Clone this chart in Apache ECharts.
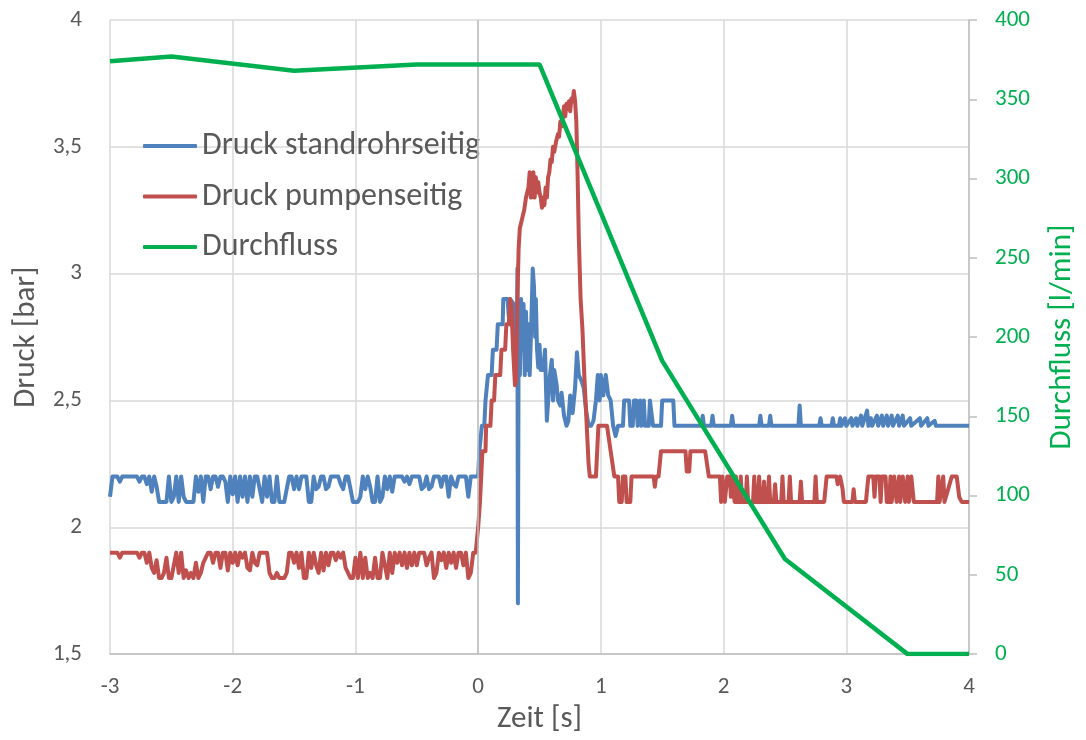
<!DOCTYPE html>
<html lang="de">
<head>
    <meta charset="UTF-8">
    <title>Druck und Durchfluss</title>
    <script src="https://cdn.jsdelivr.net/npm/echarts@6/dist/echarts.min.js"></script>
    <style>
        html, body, #chart {
            width: 100%;
            height: 100%;
            margin: 0;
            padding: 0;
            background: #fff;
        }
        body { overflow: hidden; }
    </style>
</head>
<body>
    <div id="chart"></div>
    <script>
        // Achsenbeschriftung
        const serienNamen = ['Druck standrohrseitig', 'Druck pumpenseitig', 'Durchfluss'];
        const zeitTicks = [-3, -2, -1, 0, 1, 2, 3, 4];

        // Ruhephase vor dem Öffnen: Messwerte im 0,02-s-Raster ab -3 s
        const rasterStart = -3;
        const rasterSchritt = 0.02;

        // Druck standrohrseitig [bar], -3 s ... 0 s
        const standrohrRuhe = [
            2.12, 2.2, 2.2, 2.2, 2.18, 2.2, 2.2, 2.2, 2.2, 2.2,
            2.2, 2.2, 2.18, 2.2, 2.2, 2.17, 2.2, 2.14, 2.2, 2.16,
            2.1, 2.1, 2.1, 2.1, 2.2, 2.1, 2.12, 2.2, 2.1, 2.2,
            2.12, 2.1, 2.1, 2.1, 2.1, 2.2, 2.14, 2.2, 2.1, 2.2,
            2.2, 2.15, 2.2, 2.2, 2.16, 2.2, 2.2, 2.18, 2.1, 2.2,
            2.13, 2.2, 2.1, 2.2, 2.12, 2.2, 2.1, 2.2, 2.12, 2.2,
            2.2, 2.15, 2.1, 2.2, 2.12, 2.2, 2.1, 2.1, 2.2, 2.1,
            2.1, 2.1, 2.15, 2.2, 2.2, 2.15, 2.2, 2.15, 2.2, 2.2,
            2.2, 2.1, 2.1, 2.2, 2.15, 2.16, 2.2, 2.2, 2.15, 2.16,
            2.2, 2.2, 2.2, 2.2, 2.17, 2.15, 2.2, 2.2, 2.15, 2.1,
            2.1, 2.1, 2.12, 2.2, 2.15, 2.2, 2.16, 2.1, 2.1, 2.2,
            2.1, 2.12, 2.2, 2.15, 2.2, 2.14, 2.2, 2.2, 2.2, 2.2,
            2.18, 2.2, 2.17, 2.2, 2.2, 2.2, 2.2, 2.15, 2.16, 2.2,
            2.15, 2.16, 2.2, 2.2, 2.2, 2.16, 2.2, 2.2, 2.12, 2.2,
            2.17, 2.16, 2.2, 2.2, 2.2, 2.2, 2.12, 2.2, 2.2, 2.2,
            2.2
        ];

        // Druck standrohrseitig [bar] ab 0 s: [Zeit s, Druck bar]
        const standrohrVerlauf = [
            [0.01, 2.3], [0.025, 2.3], [0.03, 2.4], [0.05, 2.4], [0.06, 2.5], [0.075, 2.5],
            [0.08, 2.6], [0.11, 2.6], [0.12, 2.7], [0.15, 2.7], [0.16, 2.8], [0.2, 2.8],
            [0.205, 2.9], [0.24, 2.9], [0.25, 2.83], [0.26, 2.9], [0.29, 2.88], [0.305, 2.58],
            [0.315, 2.6], [0.32, 3.02], [0.324, 1.7], [0.33, 2.8], [0.34, 2.6], [0.35, 2.9],
            [0.36, 2.7], [0.37, 2.88], [0.38, 2.6], [0.39, 2.85], [0.4, 2.62], [0.41, 2.8],
            [0.42, 2.6], [0.43, 2.75], [0.445, 3.02], [0.455, 2.95], [0.465, 2.75], [0.47, 2.9],
            [0.48, 2.7], [0.49, 2.63], [0.5, 2.72], [0.51, 2.62], [0.52, 2.66], [0.53, 2.62],
            [0.545, 2.7], [0.56, 2.42], [0.575, 2.42], [0.585, 2.6], [0.6, 2.66], [0.61, 2.5],
            [0.62, 2.62], [0.64, 2.56], [0.65, 2.5], [0.67, 2.48], [0.68, 2.53], [0.7, 2.44],
            [0.72, 2.4], [0.735, 2.42], [0.75, 2.52], [0.77, 2.45], [0.79, 2.55], [0.805, 2.69],
            [0.82, 2.6], [0.84, 2.58], [0.86, 2.55], [0.88, 2.46], [0.9, 2.4], [0.92, 2.4],
            [0.94, 2.42], [0.96, 2.5], [0.975, 2.6], [0.99, 2.5], [1.0, 2.6], [1.02, 2.52],
            [1.04, 2.6], [1.06, 2.52], [1.08, 2.5], [1.1, 2.4], [1.12, 2.36], [1.14, 2.4],
            [1.18, 2.4], [1.19, 2.5], [1.23, 2.5], [1.24, 2.4], [1.26, 2.4], [1.27, 2.5],
            [1.29, 2.5], [1.3, 2.4], [1.32, 2.5], [1.33, 2.4], [1.35, 2.5], [1.36, 2.4],
            [1.39, 2.4], [1.4, 2.5], [1.415, 2.5], [1.425, 2.4], [1.49, 2.4], [1.5, 2.5],
            [1.59, 2.5], [1.6, 2.4], [1.82, 2.4], [1.83, 2.44], [1.84, 2.4], [1.9, 2.4],
            [1.91, 2.44], [1.92, 2.4], [2.06, 2.4], [2.07, 2.44], [2.08, 2.4], [2.29, 2.4],
            [2.3, 2.44], [2.31, 2.4], [2.37, 2.4], [2.38, 2.44], [2.39, 2.4], [2.61, 2.4],
            [2.62, 2.48], [2.63, 2.4], [2.78, 2.4], [2.79, 2.43], [2.8, 2.4], [2.88, 2.4],
            [2.89, 2.43], [2.9, 2.4], [2.94, 2.4], [2.95, 2.43], [2.96, 2.4], [2.99, 2.43],
            [3.0, 2.4], [3.04, 2.43], [3.05, 2.4], [3.08, 2.43], [3.09, 2.4], [3.12, 2.44],
            [3.13, 2.4], [3.17, 2.46], [3.18, 2.4], [3.2, 2.43], [3.21, 2.4], [3.25, 2.44],
            [3.26, 2.4], [3.29, 2.44], [3.3, 2.4], [3.33, 2.44], [3.34, 2.4], [3.37, 2.44],
            [3.38, 2.4], [3.42, 2.44], [3.43, 2.4], [3.46, 2.44], [3.47, 2.4], [3.52, 2.43],
            [3.53, 2.4], [3.6, 2.43], [3.61, 2.4], [3.66, 2.43], [3.67, 2.4], [3.72, 2.42],
            [3.73, 2.4], [4.0, 2.4]
        ];

        // Druck pumpenseitig [bar], -3 s ... -0,02 s
        const pumpeRuhe = [
            1.9, 1.9, 1.9, 1.9, 1.88, 1.9, 1.9, 1.9, 1.9, 1.9,
            1.9, 1.9, 1.88, 1.9, 1.9, 1.86, 1.9, 1.84, 1.82, 1.87,
            1.8, 1.8, 1.82, 1.88, 1.8, 1.8, 1.85, 1.9, 1.82, 1.9,
            1.8, 1.83, 1.8, 1.82, 1.8, 1.86, 1.8, 1.82, 1.86, 1.88,
            1.9, 1.9, 1.86, 1.9, 1.9, 1.84, 1.9, 1.9, 1.83, 1.9,
            1.86, 1.9, 1.85, 1.9, 1.88, 1.9, 1.84, 1.83, 1.9, 1.86,
            1.85, 1.9, 1.9, 1.9, 1.9, 1.82, 1.8, 1.8, 1.82, 1.8,
            1.8, 1.8, 1.82, 1.9, 1.9, 1.86, 1.9, 1.84, 1.9, 1.8,
            1.8, 1.9, 1.84, 1.9, 1.85, 1.82, 1.9, 1.83, 1.9, 1.85,
            1.9, 1.9, 1.87, 1.9, 1.88, 1.9, 1.84, 1.82, 1.8, 1.8,
            1.88, 1.8, 1.9, 1.8, 1.88, 1.8, 1.82, 1.8, 1.88, 1.8,
            1.8, 1.9, 1.85, 1.8, 1.9, 1.82, 1.9, 1.86, 1.9, 1.85,
            1.9, 1.84, 1.9, 1.85, 1.9, 1.85, 1.9, 1.9, 1.9, 1.85,
            1.88, 1.9, 1.8, 1.82, 1.9, 1.87, 1.9, 1.84, 1.9, 1.86,
            1.9, 1.84, 1.9, 1.9, 1.85, 1.9, 1.8, 1.82, 1.9, 1.9
        ];

        // Druck pumpenseitig [bar] ab 0 s: [Zeit s, Druck bar]
        const pumpeVerlauf = [
            [0.0, 2.0], [0.015, 2.1], [0.025, 2.2], [0.035, 2.3], [0.06, 2.3], [0.065, 2.4],
            [0.1, 2.4], [0.11, 2.5], [0.13, 2.5], [0.14, 2.6], [0.18, 2.6], [0.19, 2.7],
            [0.22, 2.7], [0.23, 2.8], [0.25, 2.8], [0.26, 2.9], [0.27, 2.88], [0.285, 2.7],
            [0.3, 2.56], [0.31, 2.58], [0.32, 2.9], [0.33, 3.1], [0.34, 3.18], [0.35, 3.2],
            [0.36, 3.22], [0.375, 3.25], [0.39, 3.3], [0.4, 3.32], [0.41, 3.34], [0.42, 3.4],
            [0.43, 3.3], [0.44, 3.38], [0.45, 3.4], [0.46, 3.3], [0.47, 3.38], [0.48, 3.32],
            [0.49, 3.36], [0.5, 3.32], [0.51, 3.3], [0.52, 3.26], [0.53, 3.3], [0.54, 3.27],
            [0.55, 3.34], [0.56, 3.3], [0.57, 3.38], [0.58, 3.4], [0.59, 3.45], [0.6, 3.44],
            [0.61, 3.5], [0.62, 3.48], [0.635, 3.52], [0.65, 3.55], [0.66, 3.54], [0.67, 3.6],
            [0.68, 3.58], [0.69, 3.62], [0.7, 3.66], [0.71, 3.62], [0.72, 3.67], [0.73, 3.65],
            [0.74, 3.68], [0.75, 3.64], [0.76, 3.69], [0.77, 3.68], [0.78, 3.72], [0.79, 3.68],
            [0.8, 3.6], [0.81, 3.4], [0.82, 3.15], [0.835, 2.9], [0.85, 2.78], [0.865, 2.6],
            [0.875, 2.5], [0.89, 2.35], [0.9, 2.25], [0.91, 2.2], [0.96, 2.2], [0.97, 2.3],
            [0.98, 2.4], [1.05, 2.4], [1.08, 2.3], [1.11, 2.2], [1.14, 2.2], [1.15, 2.1],
            [1.17, 2.1], [1.18, 2.2], [1.2, 2.2], [1.21, 2.1], [1.24, 2.1], [1.25, 2.2],
            [1.43, 2.2], [1.44, 2.16], [1.45, 2.2], [1.47, 2.2], [1.49, 2.3], [1.69, 2.3],
            [1.7, 2.22], [1.72, 2.22], [1.73, 2.3], [1.85, 2.3], [1.88, 2.2], [1.97, 2.2],
            [1.98, 2.1], [1.99, 2.2], [2.0, 2.2], [2.01, 2.1], [2.02, 2.1], [2.03, 2.2],
            [2.05, 2.2], [2.06, 2.12], [2.07, 2.2], [2.09, 2.1], [2.1, 2.2], [2.11, 2.1],
            [2.13, 2.1], [2.14, 2.2], [2.15, 2.1], [2.18, 2.1], [2.19, 2.2], [2.2, 2.1],
            [2.24, 2.1], [2.25, 2.2], [2.26, 2.1], [2.28, 2.1], [2.29, 2.2], [2.3, 2.1],
            [2.32, 2.1], [2.33, 2.18], [2.34, 2.1], [2.36, 2.1], [2.37, 2.2], [2.38, 2.1],
            [2.41, 2.1], [2.42, 2.17], [2.43, 2.1], [2.47, 2.1], [2.48, 2.2], [2.49, 2.1],
            [2.53, 2.1], [2.54, 2.2], [2.55, 2.1], [2.62, 2.1], [2.63, 2.18], [2.64, 2.1],
            [2.74, 2.1], [2.75, 2.2], [2.76, 2.1], [2.82, 2.1], [2.84, 2.2], [2.92, 2.2],
            [2.93, 2.17], [2.95, 2.2], [2.97, 2.15], [2.98, 2.1], [3.05, 2.1], [3.06, 2.15],
            [3.07, 2.1], [3.16, 2.1], [3.18, 2.2], [3.22, 2.2], [3.23, 2.12], [3.24, 2.2],
            [3.27, 2.2], [3.28, 2.1], [3.29, 2.2], [3.32, 2.2], [3.33, 2.1], [3.35, 2.1],
            [3.36, 2.2], [3.37, 2.1], [3.39, 2.2], [3.41, 2.1], [3.43, 2.2], [3.44, 2.1],
            [3.46, 2.2], [3.48, 2.1], [3.5, 2.2], [3.51, 2.1], [3.53, 2.2], [3.55, 2.1],
            [3.74, 2.1], [3.75, 2.2], [3.76, 2.1], [3.79, 2.2], [3.8, 2.1], [3.86, 2.2],
            [3.9, 2.2], [3.92, 2.12], [3.94, 2.1], [4.0, 2.1]
        ];

        // Durchfluss [l/min]
        const durchflussZeit = [-3, -2.5, -1.5, -0.5, 0.5, 1.5, 2.5, 3.5, 4];
        const durchflussWert = [374, 377, 368, 372, 372, 185, 60, 0, 0];

        const schrift = 'Calibri, Carlito, Lato, sans-serif';
        const grau = '#595959';

        function rasterPaare(werte) {
            return werte.map((p, i) => [+(rasterStart + i * rasterSchritt).toFixed(2), p]);
        }

        const standrohrDaten = rasterPaare(standrohrRuhe).concat(standrohrVerlauf);
        const pumpeDaten = rasterPaare(pumpeRuhe).concat(pumpeVerlauf);
        const durchflussDaten = durchflussZeit.map((t, i) => [t, durchflussWert[i]]);

        const chart = echarts.init(document.getElementById('chart'));

        const option = {
            animation: false,
            color: ['#4F81BD', '#C0504D', '#00B050'],
            textStyle: { fontFamily: schrift },
            grid: { left: 110, right: 112, top: 20, bottom: 77 },
            legend: {
                data: serienNamen,
                orient: 'vertical',
                left: 138,
                top: 125,
                icon: 'roundRect',
                itemWidth: 54,
                itemHeight: 4,
                itemGap: 18.5,
                textStyle: { fontSize: 32, color: grau, lineHeight: 32, fontFamily: schrift }
            },
            xAxis: {
                type: 'value',
                min: -3,
                max: 4,
                interval: 1,
                name: 'Zeit [s]',
                nameLocation: 'middle',
                nameGap: 45,
                nameTextStyle: { fontSize: 31, color: grau },
                axisLine: { show: true, lineStyle: { color: '#BFBFBF', width: 1.5 } },
                axisTick: { show: false },
                axisLabel: {
                    fontSize: 23, color: grau, margin: 22,
                    formatter: v => zeitTicks.includes(v) ? String(v) : ''
                },
                splitLine: { show: true, lineStyle: { color: '#D9D9D9', width: 1.5 } }
            },
            yAxis: [
                {
                    type: 'value',
                    min: 1.5,
                    max: 4,
                    interval: 0.5,
                    name: 'Druck [bar]',
                    nameLocation: 'middle',
                    nameGap: 66,
                    nameRotate: 90,
                    nameTextStyle: { fontSize: 31, color: grau },
                    axisLine: { show: false },
                    axisTick: { show: false },
                    axisLabel: {
                        fontSize: 23, color: grau, margin: 28,
                        formatter: v => String(v).replace('.', ',')
                    },
                    splitLine: { show: true, lineStyle: { color: '#D9D9D9', width: 1.5 } }
                },
                {
                    type: 'value',
                    position: 'right',
                    min: 0,
                    max: 400,
                    interval: 50,
                    name: 'Durchfluss [l/min]',
                    nameLocation: 'middle',
                    nameGap: 78,
                    nameRotate: 90,
                    nameTextStyle: { fontSize: 31, color: '#00B050' },
                    axisLine: { show: true, lineStyle: { color: '#BFBFBF', width: 1.5 } },
                    axisTick: { show: true, inside: false, length: 8, lineStyle: { color: '#BFBFBF', width: 1.5 } },
                    axisLabel: { fontSize: 23, color: '#00B050', margin: 26 },
                    splitLine: { show: false }
                }
            ],
            series: [
                {
                    name: serienNamen[0],
                    type: 'line',
                    yAxisIndex: 0,
                    data: standrohrDaten,
                    symbol: 'none',
                    lineStyle: { width: 4, color: '#4F81BD', join: 'round' },
                    z: 3,
                    markLine: {
                        silent: true,
                        symbol: 'none',
                        label: { show: false },
                        lineStyle: { color: '#BFBFBF', width: 1.5, type: 'solid' },
                        data: [{ xAxis: 0 }]
                    }
                },
                {
                    name: serienNamen[1],
                    type: 'line',
                    yAxisIndex: 0,
                    data: pumpeDaten,
                    symbol: 'none',
                    lineStyle: { width: 4, color: '#C0504D', join: 'round' },
                    z: 4
                },
                {
                    name: serienNamen[2],
                    type: 'line',
                    yAxisIndex: 1,
                    data: durchflussDaten,
                    symbol: 'none',
                    lineStyle: { width: 4.5, color: '#00B050' },
                    z: 5
                }
            ]
        };

        chart.setOption(option);
        window.addEventListener('resize', function () {
            chart.resize();
        });
    </script>
</body>
</html>
